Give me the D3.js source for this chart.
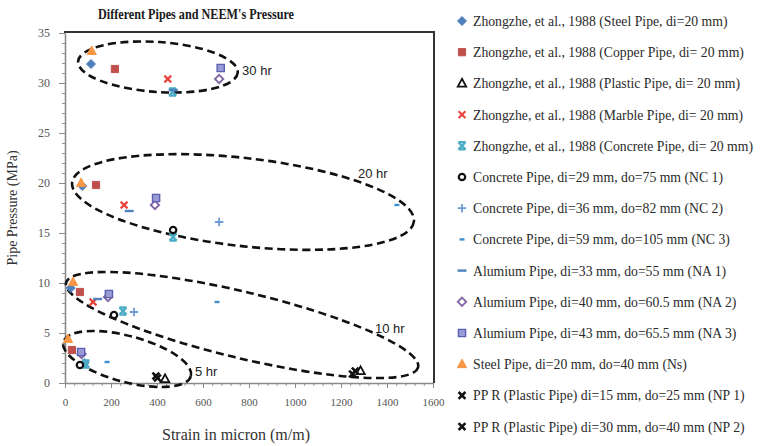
<!DOCTYPE html>
<html>
<head>
<meta charset="utf-8">
<script src="https://cdn.jsdelivr.net/npm/d3@7"></script>
<style>
  body { margin: 0; background: #fff; }
  svg { display: block; }
</style>
</head>
<body>
<svg id="chart" width="762" height="446"></svg>
<script>
// ---- data: [strain, pressure] ----
const seriesNames = [
  "Zhongzhe, et al., 1988 (Steel Pipe, di=20 mm)",
  "Zhongzhe, et al., 1988 (Copper Pipe, di= 20 mm)",
  "Zhongzhe, et al., 1988 (Plastic Pipe, di= 20 mm)",
  "Zhongzhe, et al., 1988 (Marble Pipe, di= 20 mm)",
  "Zhongzhe, et al., 1988 (Concrete Pipe, di= 20 mm)",
  "Concrete Pipe, di=29 mm, do=75 mm (NC 1)",
  "Concrete Pipe, di=36 mm, do=82 mm (NC 2)",
  "Concrete Pipe, di=59 mm, do=105 mm (NC 3)",
  "Alumium Pipe, di=33 mm, do=55 mm (NA 1)",
  "Alumium Pipe, di=40 mm, do=60.5 mm (NA 2)",
  "Alumium Pipe, di=43 mm, do=65.5 mm (NA 3)",
  "Steel Pipe, di=20 mm, do=40 mm (Ns)",
  "PP R (Plastic Pipe) di=15 mm, do=25 mm (NP 1)",
  "PP R (Plastic Pipe) di=30 mm, do=40 mm (NP 2)"
];

const zhSteel    = [[113, 31.9], [75, 19.7], [25, 9.5], [85, 2.0]];
const zhCopper   = [[217, 31.4], [135, 19.8], [65, 9.1], [30, 3.3]];
const zhPlastic  = [[435, 0.4], [1285, 1.2]];
const zhMarble   = [[447, 30.4], [257, 17.8], [122, 8.1]];
const zhConcrete = [[468, 29.1], [470, 14.6], [252, 7.2], [90, 1.9]];
const nc1        = [[470, 15.3], [213, 6.8], [65, 1.8]];
const nc2        = [[670, 16.1], [300, 7.1]];
const nc3        = [[1443, 17.8], [661, 8.1], [183, 2.1]];
const na1        = [[471, 29.3], [279, 17.2], [142, 8.4]];
const na2        = [[670, 30.4], [391, 17.8], [187, 8.6], [72, 2.9]];
const na3        = [[677, 31.5], [396, 18.5], [191, 8.9], [70, 3.1]];
const ns         = [[116, 33.2], [70, 20.0], [35, 10.1], [13, 4.4]];
const np1        = [[395, 0.7], [1250, 0.9]];
const np2        = [[402, 0.5], [1262, 1.2]];

const xTicks = [0, 200, 400, 600, 800, 1000, 1200, 1400, 1600];
const yTicks = [0, 5, 10, 15, 20, 25, 30, 35];

// duration groups: label, centre [strain, pressure]
const hourLabels  = ["30 hr", "20 hr", "10 hr", "5 hr"];
const hourCentres = [[404, 31.6], [774, 18.1], [770, 5.8], [270, 2.4]];
const hourLabelAt = [[770, 30.8], [1274, 20.5], [1348, 5.0], [565, 0.7]];

// ---- layout ----
const svg = d3.select("#chart");
const plot = { left: 65, right: 433, top: 33, bottom: 383 };

const x = d3.scaleLinear().domain([0, 1600]).range([plot.left, plot.right]);
const y = d3.scaleLinear().domain([0, 35]).range([plot.bottom, plot.top]);

const serif = "'Liberation Serif', 'DejaVu Serif', serif";

// marker styles per series (same order as names)
const blue = "#4f81bd", red = "#c0504d", cyan = "#4bacc6", purple = "#8064a2", orange = "#f79646";
const styles = [
  { shape: "diamond", fill: blue, stroke: blue, size: 4.5 },
  { shape: "square", fill: red, stroke: red, size: 3.6 },
  { shape: "triangle", fill: "#fff", stroke: "#111", size: 4.2, width: 1.8 },
  { shape: "x", fill: "none", stroke: "#e8453c", size: 3.4, width: 2.2 },
  { shape: "star", fill: "none", stroke: cyan, size: 3.6, width: 2.2 },
  { shape: "circle", fill: "#fff", stroke: "#111", size: 3.2, width: 2.2 },
  { shape: "plus", fill: "none", stroke: "#6f9bd3", size: 4.2, width: 1.8 },
  { shape: "dot", fill: "none", stroke: "#3f8fd0", size: 2.5, width: 2.4 },
  { shape: "dash", fill: "none", stroke: blue, size: 4.5, width: 2.4 },
  { shape: "diamond", fill: "#fff", stroke: purple, size: 4.2, width: 1.8 },
  { shape: "square", fill: "#9a9ad6", stroke: "#5b5fb0", size: 3.6, width: 1.4 },
  { shape: "triangle", fill: orange, stroke: orange, size: 4.6 },
  { shape: "x", fill: "none", stroke: "#111", size: 3.4, width: 2.6 },
  { shape: "x", fill: "none", stroke: "#111", size: 3.4, width: 2.6 }
];
const seriesData = [zhSteel, zhCopper, zhPlastic, zhMarble, zhConcrete, nc1, nc2, nc3, na1, na2, na3, ns, np1, np2];
const series = seriesNames.map((name, i) => ({ name, values: seriesData[i], style: styles[i] }));

function markerPath(s) {
  const r = s.size;
  switch (s.shape) {
    case "diamond": return `M0,${-r}L${r},0L0,${r}L${-r},0Z`;
    case "square": return `M${-r},${-r}H${r}V${r}H${-r}Z`;
    case "triangle": return `M0,${-r * 1.1}L${r},${r * 0.75}H${-r}Z`;
    case "x": return `M${-r},${-r}L${r},${r}M${-r},${r}L${r},${-r}`;
    case "star": return `M${-r},${-r}L${r},${r}M${-r},${r}L${r},${-r}M${-r},${-r}H${r}M${-r},${r}H${r}`;
    case "plus": return `M${-r},0H${r}M0,${-r}V${r}`;
    case "dot": return `M${-r},0H${r}`;
    case "dash": return `M${-r},0H${r}`;
    case "circle": return d3.arc()({ innerRadius: 0, outerRadius: r, startAngle: 0, endAngle: 2 * Math.PI });
  }
}

// ---- title ----
svg.append("text")
  .attr("x", 196).attr("y", 19)
  .attr("text-anchor", "middle")
  .attr("font-family", serif).attr("font-weight", "bold").attr("font-size", 14.5)
  .attr("textLength", 196).attr("lengthAdjust", "spacingAndGlyphs")
  .attr("fill", "#1a1a1a")
  .text("Different Pipes and NEEM's Pressure");

// ---- axes ----
const yMinor = svg.append("g")
  .attr("transform", `translate(${plot.left},0)`)
  .call(d3.axisLeft(y).tickValues(d3.range(0, 36, 1)).tickSize(3).tickFormat(""));
yMinor.select(".domain").remove();
yMinor.selectAll("line").attr("stroke", "#999");

const yAxis = svg.append("g")
  .attr("transform", `translate(${plot.left},0)`)
  .call(d3.axisLeft(y).tickValues(yTicks).tickSize(6).tickSizeOuter(0).tickPadding(9));
yAxis.select(".domain").attr("stroke", "#8a8a8a").attr("stroke-width", 1.6);
yAxis.selectAll("line").attr("stroke", "#8a8a8a");
yAxis.selectAll("text").attr("font-family", serif).attr("font-size", 12).attr("fill", "#555");

const xMinor = svg.append("g")
  .attr("transform", `translate(0,${plot.bottom})`)
  .call(d3.axisBottom(x).tickValues(d3.range(0, 1601, 40)).tickSize(3).tickFormat(""));
xMinor.select(".domain").remove();
xMinor.selectAll("line").attr("stroke", "#999");

const xAxis = svg.append("g")
  .attr("transform", `translate(0,${plot.bottom})`)
  .call(d3.axisBottom(x).tickValues(xTicks).tickFormat(d3.format("d"))
    .tickSize(5).tickSizeOuter(0).tickPadding(10));
xAxis.select(".domain").attr("stroke", "#8a8a8a").attr("stroke-width", 1.6);
xAxis.selectAll("line").attr("stroke", "#8a8a8a");
xAxis.selectAll("text").attr("font-family", serif).attr("font-size", 11).attr("fill", "#555");

// plot frame top and right
svg.append("path")
  .attr("d", `M${plot.left - 1},${plot.top - 1}H${plot.right + 1}V${plot.bottom}`)
  .attr("fill", "none").attr("stroke", "#333").attr("stroke-width", 2);

// axis titles
svg.append("text")
  .attr("transform", `translate(17,${(plot.top + plot.bottom) / 2}) rotate(-90)`)
  .attr("text-anchor", "middle")
  .attr("font-family", serif).attr("font-size", 14).attr("fill", "#333")
  .text("Pipe Pressure (MPa)");

svg.append("text")
  .attr("x", 236).attr("y", 440)
  .attr("text-anchor", "middle")
  .attr("font-family", serif).attr("font-size", 16).attr("fill", "#333")
  .text("Strain in micron (m/m)");

// ---- dashed ellipses around duration groups (radii in px, tilt in deg) ----
const ellipseRx = [80, 172, 181, 66];
const ellipseRy = [25, 44, 33, 23];
const ellipseTilt = [4, 6.5, 13.5, 15];

svg.append("g").selectAll("ellipse")
  .data(hourCentres)
  .join("ellipse")
  .attr("transform", (d, i) => `translate(${x(d[0])},${y(d[1])}) rotate(${ellipseTilt[i]})`)
  .attr("rx", (d, i) => ellipseRx[i])
  .attr("ry", (d, i) => ellipseRy[i])
  .attr("fill", "none")
  .attr("stroke", "#111")
  .attr("stroke-width", 2.6)
  .attr("stroke-dasharray", "8,4.5");

svg.append("g").selectAll("text")
  .data(hourLabels)
  .join("text")
  .attr("x", (d, i) => x(hourLabelAt[i][0]))
  .attr("y", (d, i) => y(hourLabelAt[i][1]))
  .attr("font-family", "'Liberation Sans', Arial, sans-serif")
  .attr("font-size", 13)
  .attr("fill", "#222")
  .text(d => d);

// ---- points ----
const pts = svg.append("g");
series.forEach(s => {
  pts.selectAll(null)
    .data(s.values)
    .join("path")
    .attr("transform", d => `translate(${x(d[0])},${y(d[1])})`)
    .attr("d", markerPath(s.style))
    .attr("fill", s.style.fill)
    .attr("stroke", s.style.stroke)
    .attr("stroke-width", s.style.width || 1);
});

// ---- legend ----
const legendTop = 21, legendStep = 31.2;
const legend = svg.append("g").selectAll("g")
  .data(series)
  .join("g")
  .attr("transform", (d, i) => `translate(462,${legendTop + i * legendStep})`);

legend.append("path")
  .attr("d", d => markerPath(d.style))
  .attr("fill", d => d.style.fill)
  .attr("stroke", d => d.style.stroke)
  .attr("stroke-width", d => d.style.width || 1);

const legendText = legend.append("text")
  .attr("x", 11).attr("y", 5)
  .attr("font-family", serif).attr("font-size", 14).attr("fill", "#2a2a2a")
  .text(d => d.name);

// keep the glyph height, squeeze entries so the longest fits the picture's width
const lengths = legendText.nodes().map(n => n.getComputedTextLength());
const squeeze = 280 / d3.max(lengths);
legendText
  .attr("textLength", (d, i) => (lengths[i] * squeeze).toFixed(1))
  .attr("lengthAdjust", "spacingAndGlyphs");
</script>
</body>
</html>
